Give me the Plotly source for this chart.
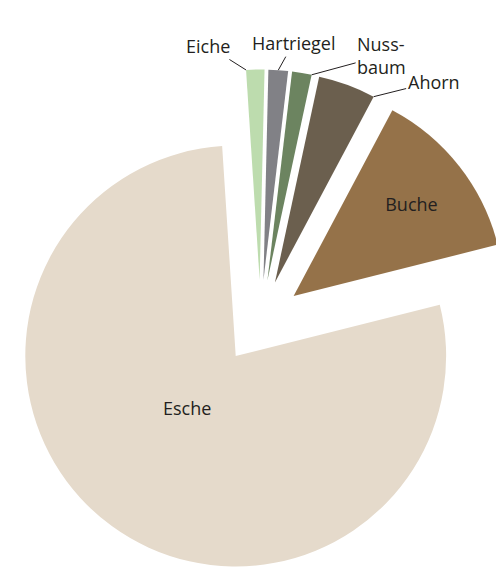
import math
import plotly.graph_objects as go

labels = ["Eiche", "Hartriegel", "Nuss-<br>baum", "Ahorn", "Buche", "Esche"]
values = [1.4, 1.5, 1.5, 4.4, 13.3, 77.9]
colors = ["#bddcae", "#818186", "#6c8460", "#6b5f4e", "#957249", "#e5dacb"]
text_pos = ["none", "none", "none", "none", "inside", "none"]

PULL = 0.2
ROT = -3.7
W, H = 505, 578
DX = [0.0, 1.0]
DY = [0.0187, 0.8947]
FONT = dict(family="Open Sans", size=18, color="#231f20")

fig = go.Figure(go.Pie(
    labels=labels,
    values=values,
    sort=False,
    direction="clockwise",
    rotation=ROT,
    pull=[PULL] * len(values),
    marker=dict(colors=colors, line=dict(width=0)),
    textinfo="label",
    textposition=text_pos,
    insidetextorientation="horizontal",
    insidetextfont=FONT,
    showlegend=False,
    hoverinfo="label+percent",
    domain=dict(x=DX, y=DY),
))

# pie geometry as plotly computes it (used only to attach labels)
cx = W * (DX[0] + DX[1]) / 2
cy = H * (1 - (DY[0] + DY[1]) / 2)
r = min(W * (DX[1] - DX[0]), H * (DY[1] - DY[0])) / 2 / (1 + PULL)
tot = sum(values)
starts, ends = [], []
a = ROT
for v in values:
    starts.append(a)
    a += v / tot * 360
    ends.append(a)


def pt(i, ang, dist):
    mid = math.radians((starts[i] + ends[i]) / 2)
    ang = math.radians(ang)
    x = cx + PULL * r * math.sin(mid) + dist * math.sin(ang)
    y = cy - PULL * r * math.cos(mid) - dist * math.cos(ang)
    return x / W, 1 - y / H


# outside labels with leader lines: (slice index, edge angle, text offset)
leaders = [
    (0, starts[0], -38, -24),
    (1, (starts[1] + ends[1]) / 2, 15, -27),
    (2, ends[2], 70, -19),
    (3, ends[3], 60, -15),
]
annotations = []
for i, ang, ax, ay in leaders:
    x, y = pt(i, ang, r)
    annotations.append(dict(
        x=x, y=y, xref="paper", yref="paper", text=labels[i],
        showarrow=True, arrowhead=0, arrowwidth=1, arrowcolor="#231f20",
        standoff=0, startstandoff=0, ax=ax, ay=ay, align="left",
        font=FONT,
    ))

# Esche label inside its slice
mid5 = (starts[5] + ends[5]) / 2
ex, ey = pt(5, mid5, 0.39 * r)
annotations.append(dict(x=ex, y=ey, xref="paper", yref="paper",
                        text="Esche", showarrow=False, font=FONT))

fig.update_layout(
    width=W, height=H,
    margin=dict(l=0, r=0, t=0, b=0),
    paper_bgcolor="white",
    plot_bgcolor="white",
    annotations=annotations,
)

fig.write_html("out.html")
